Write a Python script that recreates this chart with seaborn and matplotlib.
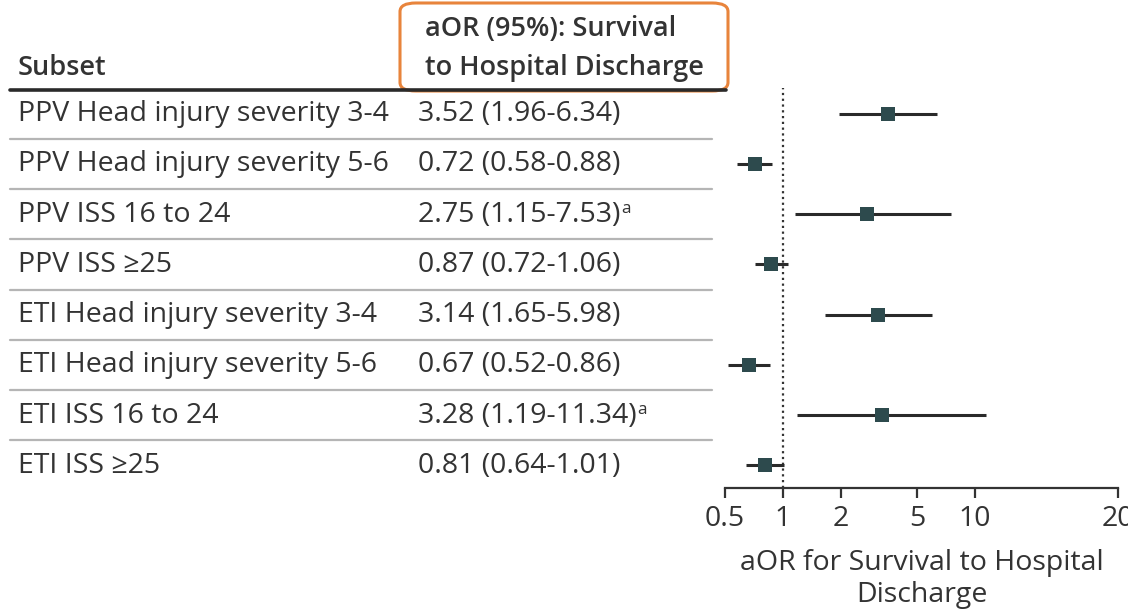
import matplotlib
matplotlib.use("Agg")
import matplotlib.pyplot as plt
import matplotlib.transforms as mtransforms
from matplotlib.lines import Line2D
from matplotlib.patches import FancyBboxPatch
import seaborn as sns
import pandas as pd
import numpy as np

# ---------------- data ----------------
subsets = [
    "PPV Head injury severity 3-4",
    "PPV Head injury severity 5-6",
    "PPV ISS 16 to 24",
    "PPV ISS \u226525",
    "ETI Head injury severity 3-4",
    "ETI Head injury severity 5-6",
    "ETI ISS 16 to 24",
    "ETI ISS \u226525",
]
aor = [3.52, 0.72, 2.75, 0.87, 3.14, 0.67, 3.28, 0.81]
ci_low = [1.96, 0.58, 1.15, 0.72, 1.65, 0.52, 1.19, 0.64]
ci_high = [6.34, 0.88, 7.53, 1.06, 5.98, 0.86, 11.34, 1.01]
notes = ["", "", "a", "", "", "", "a", ""]
tick_values = [0.5, 1, 2, 5, 10, 55.4]
tick_labels = ["0.5", "1", "2", "5", "10", "20"]

df = pd.DataFrame({"subset": subsets, "aor": aor, "lo": ci_low, "hi": ci_high,
                   "row": np.arange(len(subsets))})

# ---------------- style ----------------
sns.set_theme(style="white")
FONT = ["Open Sans", "DejaVu Sans"]
plt.rcParams["font.family"] = FONT
TXT = "#333333"
FS = 20.5
HFS = 19.5

W, H = 1128, 615
fig = plt.figure(figsize=(W / 100, H / 100), dpi=100)
fig.patch.set_facecolor("white")

def fx(px):
    return px / W

def fy(py):
    return 1 - py / H

ax = fig.add_axes([fx(725), fy(488), fx(1118) - fx(725), fy(88) - fy(488)])
ax.set_facecolor("white")

# CIs and markers
ax.hlines(df["row"], df["lo"], df["hi"], color="#2a2a2a", lw=2.2, zorder=2)
sns.scatterplot(data=df, x="aor", y="row", marker="s", s=95, color="#2d4a4d",
                edgecolor="#2d4a4d", linewidth=0, zorder=3, ax=ax, legend=False)
ax.axvline(1, color="#333333", lw=1.6, ls=(0, (1, 1.6)), zorder=1)

ax.set_xscale("log")
ax.set_xlim(0.5, 55.4)
ax.set_ylim(len(subsets) - 1 + 0.45, -0.51)
ax.set_xticks(tick_values)
ax.set_xticklabels(tick_labels)
ax.xaxis.set_minor_locator(matplotlib.ticker.NullLocator())
ax.set_yticks([])
ax.set_ylabel("")
for s in ["top", "left", "right"]:
    ax.spines[s].set_visible(False)
ax.spines["bottom"].set_color("#333333")
ax.spines["bottom"].set_linewidth(1.6)
ax.tick_params(axis="x", direction="out", length=7, width=1.6, color="#333333",
               labelsize=FS, labelcolor=TXT, pad=5, bottom=True)
ax.set_xlabel("aOR for Survival to Hospital\nDischarge", fontsize=FS, color=TXT,
              labelpad=12, linespacing=1.18)

# ---------------- table ----------------
blend = mtransforms.blended_transform_factory(fig.transFigure, ax.transData)
for i, (name, a, l, h, n) in enumerate(zip(subsets, aor, ci_low, ci_high, notes)):
    fig.text(fx(18), i + 0.15, name, transform=blend, fontsize=FS, color=TXT,
             va="baseline", ha="left")
    est = f"{a:.2f} ({l:.2f}-{h:.2f})"
    t = fig.text(fx(418), i + 0.15, est, transform=blend, fontsize=FS, color=TXT,
                 va="baseline", ha="left")
    if n:
        fig.canvas.draw()
        bb = t.get_window_extent()
        fig.text(bb.x1 / W + fx(1), i - 0.02, n, transform=blend,
                 fontsize=FS * 0.6, color=TXT, va="baseline", ha="left")
    if i < len(subsets) - 1:
        fig.add_artist(Line2D([fx(10), fx(712)], [i + 0.5, i + 0.5], transform=blend,
                              color="#b5b5b5", lw=1.6))

# header line
fig.add_artist(Line2D([fx(10), fx(726)], [fy(90), fy(90)], transform=fig.transFigure,
                      color="#2a2a2a", lw=2.6))

# headers
fig.text(fx(18), fy(75), "Subset", fontsize=HFS, color=TXT, fontweight="semibold",
         va="baseline", ha="left")
fig.text(fx(425), fy(36), "aOR (95%): Survival", fontsize=HFS, color=TXT,
         fontweight="semibold", va="baseline", ha="left")
fig.text(fx(425), fy(75), "to Hospital Discharge", fontsize=HFS, color=TXT,
         fontweight="semibold", va="baseline", ha="left")

# orange rounded box around header
box = FancyBboxPatch((fx(400), fy(91)), fx(728) - fx(400), fy(3) - fy(91),
                     boxstyle="round,pad=0,rounding_size=0.014",
                     transform=fig.transFigure, fill=False,
                     edgecolor="#e8843c", lw=2.2)
fig.add_artist(box)

fig.savefig("out.png", dpi=100, facecolor="white")
